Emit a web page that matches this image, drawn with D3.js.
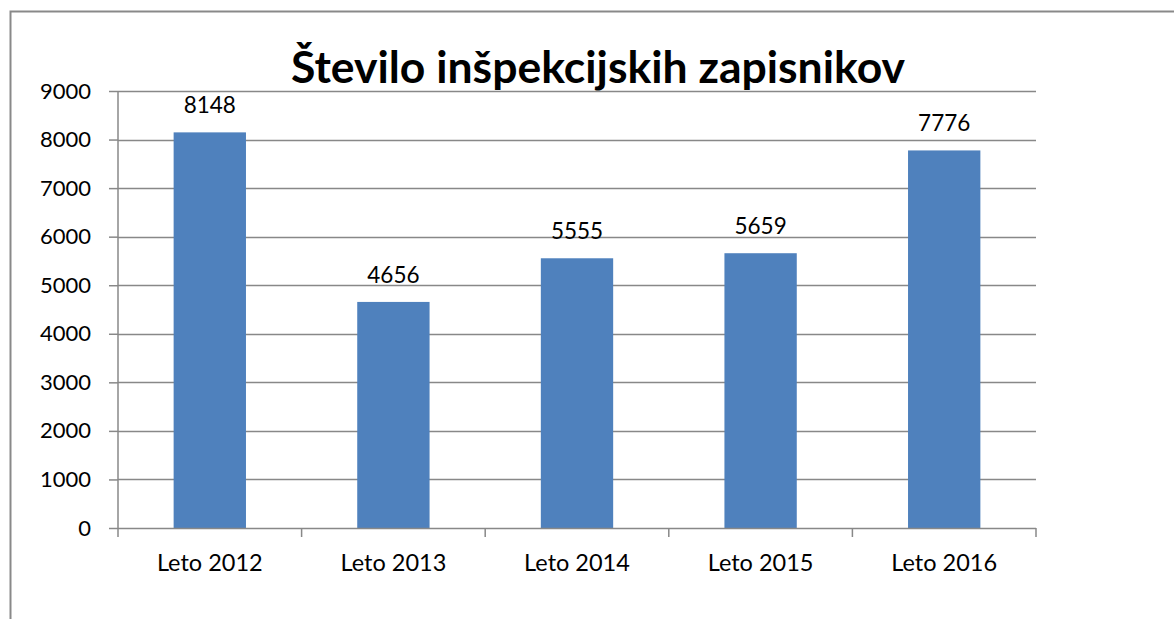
<!DOCTYPE html>
<html>
<head>
<meta charset="utf-8">
<script src="https://cdn.jsdelivr.net/npm/d3@7"></script>
<style>
  html, body { margin: 0; padding: 0; background: #fff; }
  svg { display: block; }
  text { font-family: Lato, "Open Sans", sans-serif; fill: #000; }
</style>
</head>
<body>
<svg id="chart" width="1174" height="619"></svg>
<script>
const title = "Število inšpekcijskih zapisnikov";
const categories = ["Leto 2012", "Leto 2013", "Leto 2014", "Leto 2015", "Leto 2016"];
const values = [8148, 4656, 5555, 5659, 7776];
const yTicks = [0, 1000, 2000, 3000, 4000, 5000, 6000, 7000, 8000, 9000];

const svg = d3.select("#chart");
const W = 1174, H = 619;
const m = { left: 118, right: 1036, top: 91, bottom: 528 };

// chart frame (left + top visible)
svg.append("path")
  .attr("d", `M10.5,${H} L10.5,11.5 L${W},11.5`)
  .attr("fill", "none").attr("stroke", "#898989").attr("stroke-width", 2);

const x = d3.scaleBand().domain(categories).range([m.left, m.right]).paddingInner(0.606).paddingOuter(0.303);
const xOuter = d3.scaleBand().domain(categories).range([m.left, m.right]);
const y = d3.scaleLinear().domain([0, 9000]).range([m.bottom, m.top]);

// gridlines
svg.append("g").selectAll("line").data(yTicks.filter(d => d > 0)).join("line")
  .attr("x1", m.left).attr("x2", m.right)
  .attr("y1", d => Math.round(y(d)) + 0.5).attr("y2", d => Math.round(y(d)) + 0.5)
  .attr("stroke", "#888").attr("stroke-width", 1.5);

// y axis
const yAxis = d3.axisLeft(y).tickValues(yTicks).tickSize(9).tickPadding(18).tickFormat(d3.format("d"));
const gy = svg.append("g").attr("transform", `translate(${m.left},0)`).call(yAxis);
gy.select(".domain").attr("stroke", "#888").attr("stroke-width", 1.5).attr("d", `M0,${m.top}V${m.bottom}`);
gy.selectAll(".tick line").attr("stroke", "#888").attr("stroke-width", 1.5);
gy.selectAll(".tick text").style("font-family", "Lato, sans-serif").style("font-size", "22px").attr("fill", "#000");

// bars
svg.append("g").selectAll("rect").data(values).join("rect")
  .attr("x", (d, i) => x(categories[i]))
  .attr("width", x.bandwidth())
  .attr("y", d => y(d))
  .attr("height", d => y(0) - y(d))
  .attr("fill", "#4F81BD");

// x axis
const gx = svg.append("g").attr("transform", `translate(0,${m.bottom})`);
gx.append("line").attr("x1", m.left).attr("x2", m.right).attr("y1", 0.5).attr("y2", 0.5)
  .attr("stroke", "#888").attr("stroke-width", 1.5);
const bounds = categories.map(c => xOuter(c)).concat([m.right]);
gx.selectAll("line.tk").data(bounds).join("line").attr("class", "tk")
  .attr("x1", d => d).attr("x2", d => d).attr("y1", 0).attr("y2", 9)
  .attr("stroke", "#888").attr("stroke-width", 1.5);
gx.selectAll("text").data(categories).join("text")
  .attr("x", d => xOuter(d) + xOuter.bandwidth() / 2)
  .attr("y", 43)
  .attr("text-anchor", "middle")
  .style("font-size", "23.5px")
  .text(d => d);

// value labels
svg.append("g").selectAll("text").data(values).join("text")
  .attr("x", (d, i) => x(categories[i]) + x.bandwidth() / 2)
  .attr("y", d => y(d) - 19)
  .attr("text-anchor", "middle")
  .style("font-size", "22.5px")
  .text(d => d);

// title
svg.append("text")
  .attr("x", 598).attr("y", 83)
  .attr("text-anchor", "middle")
  .style("font-size", "44.5px").style("font-weight", "bold")
  .text(title);
</script>
</body>
</html>
